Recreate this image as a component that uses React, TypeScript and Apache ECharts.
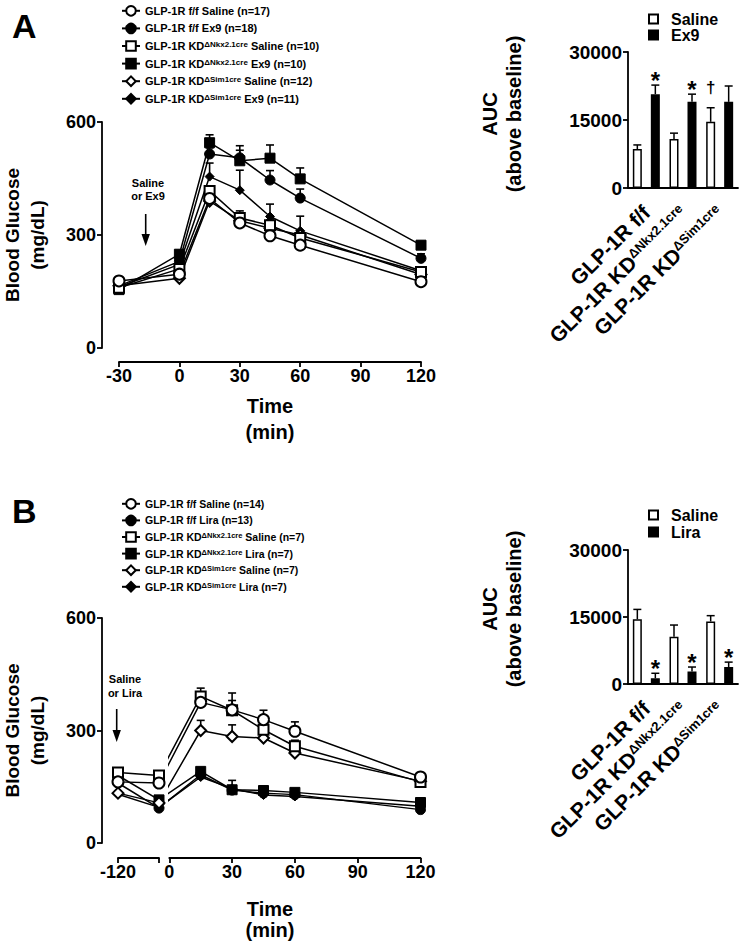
import React, { useEffect, useRef } from 'react';
import * as echarts from 'echarts';

const FONT = "'Liberation Sans', Arial, Helvetica, sans-serif";

// ---------- Panel A: time course (Ex9) ----------
const timesA = [-30, 0, 15, 30, 45, 60, 120];
const ffSalA = [178, 196, 397, 332, 298, 273, 176];
const ffSalAErr = [6, 8, 10, 9, 9, 9, 8];
const ffEx9A = [165, 230, 515, 505, 446, 398, 238];
const ffEx9AErr = [6, 10, 16, 20, 25, 24, 12];
const nkxSalA = [160, 210, 417, 345, 326, 292, 202];
const nkxSalAErr = [6, 10, 13, 19, 14, 12, 9];
const nkxEx9A = [155, 249, 545, 497, 504, 449, 273];
const nkxEx9AErr = [6, 10, 21, 40, 35, 29, 10];
const simSalA = [165, 185, 390, 338, 318, 300, 195];
const simSalAErr = [6, 8, 10, 10, 10, 10, 8];
const simEx9A = [162, 222, 455, 419, 349, 311, 205];
const simEx9AErr = [6, 10, 36, 53, 33, 39, 10];

const namesA = [
  'GLP-1R f/f Saline (n=17)',
  'GLP-1R f/f Ex9 (n=18)',
  'GLP-1R KDΔNkx2.1cre Saline (n=10)',
  'GLP-1R KDΔNkx2.1cre Ex9 (n=10)',
  'GLP-1R KDΔSim1cre Saline (n=12)',
  'GLP-1R KDΔSim1cre Ex9 (n=11)',
];

// ---------- Panel B: time course (Lira) ----------
const timesB = [-120, -5, 15, 30, 45, 60, 120];
const ffSalB = [163, 160, 375, 355, 329, 298, 176];
const ffSalBErr = [8, 8, 14, 25, 25, 25, 8];
const ffLiraB = [160, 93, 182, 141, 133, 129, 89];
const ffLiraBErr = [6, 6, 8, 8, 6, 6, 6];
const nkxSalB = [188, 180, 391, 354, 302, 258, 163];
const nkxSalBErr = [8, 8, 22, 46, 18, 16, 8];
const nkxLiraB = [180, 115, 191, 142, 140, 135, 108];
const nkxLiraBErr = [6, 6, 8, 25, 6, 6, 6];
const simSalB = [133, 107, 300, 284, 280, 240, 165];
const simSalBErr = [6, 6, 27, 31, 10, 10, 6];
const simLiraB = [130, 95, 176, 145, 128, 124, 98];
const simLiraBErr = [6, 6, 6, 6, 6, 6, 6];

const namesB = [
  'GLP-1R f/f Saline (n=14)',
  'GLP-1R f/f Lira (n=13)',
  'GLP-1R KDΔNkx2.1cre Saline (n=7)',
  'GLP-1R KDΔNkx2.1cre Lira (n=7)',
  'GLP-1R KDΔSim1cre Saline (n=7)',
  'GLP-1R KDΔSim1cre Lira (n=7)',
];

// ---------- AUC bars ----------
const aucGroups = ['GLP-1R f/f', 'GLP-1R KDΔNkx2.1cre', 'GLP-1R KDΔSim1cre'];
const aucSalA = [8600, 10800, 14600];
const aucSalAErr = [900, 1300, 3100];
const aucSalAMark = ['', '', '†'];
const aucEx9A = [20700, 19000, 19000];
const aucEx9AErr = [2000, 1700, 3500];
const aucEx9AMark = ['*', '*', ''];
const aucSalB = [14500, 10600, 14000];
const aucSalBErr = [2200, 2600, 1300];
const aucSalBMark = ['', '', ''];
const aucLiraB = [1300, 2800, 3800];
const aucLiraBErr = [1100, 1000, 1100];
const aucLiraBMark = ['*', '*', '*'];

const supFmt = (s: string) => s.replace(/(Δ\S+)/, '{sup|$1}');

const BAR_W = 9;

function lineErr(params: any, api: any) {
  const x = api.value(0);
  const m = api.value(1);
  const e = api.value(2);
  const p0 = api.coord([x, m]);
  const p1 = api.coord([x, m + e]);
  return {
    type: 'group',
    children: [
      { type: 'line', shape: { x1: p0[0], y1: p0[1], x2: p1[0], y2: p1[1] }, style: { stroke: '#000', lineWidth: 1.6 } },
      { type: 'line', shape: { x1: p1[0] - 4, y1: p1[1], x2: p1[0] + 4, y2: p1[1] }, style: { stroke: '#000', lineWidth: 1.6 } },
    ],
  };
}

function barErr(side: number, marks: string[]) {
  return (params: any, api: any) => {
    const i = api.value(0);
    const m = api.value(1);
    const e = api.value(2);
    const c0 = api.coord([i, m]);
    const c1 = api.coord([i, m + e]);
    const x = c0[0] + side * BAR_W;
    const children: any[] = [
      { type: 'line', shape: { x1: x, y1: c0[1], x2: x, y2: c1[1] }, style: { stroke: '#000', lineWidth: 1.5 } },
      { type: 'line', shape: { x1: x - 4, y1: c1[1], x2: x + 4, y2: c1[1] }, style: { stroke: '#000', lineWidth: 1.5 } },
    ];
    const mk = marks[params.dataIndex];
    if (mk) {
      const star = mk === '*';
      children.push({
        type: 'text',
        style: {
          text: mk,
          x,
          y: c1[1] - (star ? 5 : 20),
          align: 'center',
          verticalAlign: 'middle',
          textAlign: 'center',
          textVerticalAlign: 'middle',
          fontSize: star ? 24 : 17,
          fontWeight: 'bold',
          fontFamily: FONT,
          fill: '#000',
        },
      });
    }
    return { type: 'group', children };
  };
}

type Marker = { shape: string; filled: boolean; size: number };
const mOpenCircle: Marker = { shape: 'circle', filled: false, size: 11 };
const mFillCircle: Marker = { shape: 'circle', filled: true, size: 10 };
const mOpenSquare: Marker = { shape: 'rect', filled: false, size: 10 };
const mFillSquare: Marker = { shape: 'rect', filled: true, size: 10 };
const mOpenDiamond: Marker = { shape: 'diamond', filled: false, size: 11 };
const mFillDiamond: Marker = { shape: 'diamond', filled: true, size: 9 };

function lineSeries(name: string | undefined, data: any[], mk: Marker, xi: number, yi: number) {
  const s: any = {
    type: 'line',
    data,
    xAxisIndex: xi,
    yAxisIndex: yi,
    symbol: mk.shape,
    symbolSize: mk.size,
    showSymbol: true,
    showAllSymbol: true,
    lineStyle: { color: '#000', width: 1.5 },
    itemStyle: { color: mk.filled ? '#000' : '#fff', borderColor: '#000', borderWidth: mk.filled ? 1 : 2 },
    emphasis: { disabled: true },
    z: 3,
  };
  if (name) s.name = name;
  return s;
}

function errSeries(data: any[], xi: number, yi: number) {
  return {
    type: 'custom',
    xAxisIndex: xi,
    yAxisIndex: yi,
    data,
    encode: { x: 0, y: 1 },
    renderItem: lineErr,
    silent: true,
    z: 2,
  };
}

const axisLineStyle = { color: '#000', width: 1.8 };
const axisLine = { show: true, onZero: false, lineStyle: axisLineStyle };
const tickStyle = { show: true, length: 5, lineStyle: { color: '#000', width: 1.8 } };
const plainNum = (v: number) => String(v);
const tickLabel = (size: number, margin: number) => ({
  color: '#000',
  fontSize: size,
  fontWeight: 'bold',
  fontFamily: FONT,
  margin,
  formatter: plainNum,
});

export default function App() {
  const ref = useRef<HTMLDivElement>(null);
  useEffect(() => {
    if (!ref.current) return;
    const chart = echarts.init(ref.current, undefined, { renderer: 'svg' });

    const seriesA: [string, number[], number[], Marker][] = [
      [namesA[3], nkxEx9A, nkxEx9AErr, mFillSquare],
      [namesA[1], ffEx9A, ffEx9AErr, mFillCircle],
      [namesA[5], simEx9A, simEx9AErr, mFillDiamond],
      [namesA[4], simSalA, simSalAErr, mOpenDiamond],
      [namesA[2], nkxSalA, nkxSalAErr, mOpenSquare],
      [namesA[0], ffSalA, ffSalAErr, mOpenCircle],
    ];
    const seriesB: [string, number[], number[], Marker][] = [
      [namesB[3], nkxLiraB, nkxLiraBErr, mFillSquare],
      [namesB[1], ffLiraB, ffLiraBErr, mFillCircle],
      [namesB[5], simLiraB, simLiraBErr, mFillDiamond],
      [namesB[4], simSalB, simSalBErr, mOpenDiamond],
      [namesB[2], nkxSalB, nkxSalBErr, mOpenSquare],
      [namesB[0], ffSalB, ffSalBErr, mOpenCircle],
    ];

    const series: any[] = [];
    seriesA.forEach(([, v, e]) => series.push(errSeries(timesA.map((t, i) => [t, v[i], e[i]]), 0, 0)));
    seriesA.forEach(([n, v, , mk]) => series.push(lineSeries(n, timesA.map((t, i) => [t, v[i]]), mk, 0, 0)));
    seriesB.forEach(([, v, e]) => series.push(errSeries([0, 1].map((i) => [i, v[i], e[i]]), 2, 2)));
    seriesB.forEach(([, v, , mk]) => series.push(lineSeries(undefined, [v[0], v[1]], mk, 2, 2)));
    seriesB.forEach(([, v, e]) =>
      series.push(errSeries(timesB.slice(2).map((t, k) => [t, v[k + 2], e[k + 2]]), 3, 3))
    );
    seriesB.forEach(([n, v, , mk]) =>
      series.push(
        lineSeries(
          n,
          timesB.slice(1).map((t, k) => (k === 0 ? { value: [t, v[1]], symbol: 'none' } : [t, v[k + 1]])),
          mk,
          3,
          3
        )
      )
    );
    const whiteBar = { color: '#fff', borderColor: '#000', borderWidth: 1.5 };
    const blackBar = { color: '#000', borderColor: '#000', borderWidth: 1.5 };
    series.push({ type: 'bar', name: 'Saline', xAxisIndex: 1, yAxisIndex: 1, data: aucSalA, barWidth: BAR_W, barGap: '100%', itemStyle: whiteBar, emphasis: { disabled: true } });
    series.push({ type: 'bar', name: 'Ex9', xAxisIndex: 1, yAxisIndex: 1, data: aucEx9A, barWidth: BAR_W, barGap: '100%', itemStyle: blackBar, emphasis: { disabled: true } });
    series.push({ type: 'custom', xAxisIndex: 1, yAxisIndex: 1, data: aucSalA.map((v, i) => [i, v, aucSalAErr[i]]), encode: { x: 0, y: 1 }, renderItem: barErr(-1, aucSalAMark), silent: true, z: 4 });
    series.push({ type: 'custom', xAxisIndex: 1, yAxisIndex: 1, data: aucEx9A.map((v, i) => [i, v, aucEx9AErr[i]]), encode: { x: 0, y: 1 }, renderItem: barErr(1, aucEx9AMark), silent: true, z: 4 });
    series.push({ type: 'bar', name: 'Saline', xAxisIndex: 4, yAxisIndex: 4, data: aucSalB, barWidth: BAR_W, barGap: '100%', itemStyle: whiteBar, emphasis: { disabled: true } });
    series.push({ type: 'bar', name: 'Lira', xAxisIndex: 4, yAxisIndex: 4, data: aucLiraB, barWidth: BAR_W, barGap: '100%', itemStyle: blackBar, emphasis: { disabled: true } });
    series.push({ type: 'custom', xAxisIndex: 4, yAxisIndex: 4, data: aucSalB.map((v, i) => [i, v, aucSalBErr[i]]), encode: { x: 0, y: 1 }, renderItem: barErr(-1, aucSalBMark), silent: true, z: 4 });
    series.push({ type: 'custom', xAxisIndex: 4, yAxisIndex: 4, data: aucLiraB.map((v, i) => [i, v, aucLiraBErr[i]]), encode: { x: 0, y: 1 }, renderItem: barErr(1, aucLiraBMark), silent: true, z: 4 });

    const legendText = (size: number, supSize: number) => ({
      color: '#000',
      fontSize: size,
      fontWeight: 'bold',
      fontFamily: FONT,
      rich: {
        sup: { color: '#000', fontSize: supSize, fontWeight: 'bold', fontFamily: FONT, verticalAlign: 'top' },
      },
    });
    const barLegendText = { color: '#000', fontSize: 16, fontWeight: 'bold', fontFamily: FONT, padding: [0, 0, 0, 8] };

    const gridBase = { containLabel: false, outerBoundsMode: 'none', show: false };

    const catAxis = (gi: number) => ({
      type: 'category',
      gridIndex: gi,
      data: aucGroups,
      axisLine,
      axisTick: { show: false },
      axisLabel: {
        color: '#000',
        fontSize: 21,
        fontWeight: 'bold',
        fontFamily: FONT,
        margin: 21,
        rotate: 45,
        interval: 0,
        formatter: (v: string) => supFmt(v),
        rich: { sup: { color: '#000', fontSize: 13, fontWeight: 'bold', fontFamily: FONT, verticalAlign: 'top' } },
      },
    });
    const aucAxis = (gi: number, shift: number) => ({
      type: 'value',
      gridIndex: gi,
      min: 0,
      max: 30000,
      interval: 15000,
      axisLine,
      axisTick: tickStyle,
      axisLabel: tickLabel(19, 6),
      splitLine: { show: false },
      name: 'AUC\n(above baseline)',
      nameLocation: 'middle',
      nameRotate: 90,
      nameGap: 102,
      nameTextStyle: { color: '#000', fontSize: 20, fontWeight: 'bold', fontFamily: FONT, lineHeight: 24, padding: [0, 0, 0, shift] },
    });
    const glucoseAxis = (gi: number, offset: number, show: boolean) => ({
      type: 'value',
      gridIndex: gi,
      show,
      min: 0,
      max: 600,
      interval: 300,
      offset,
      axisLine,
      axisTick: tickStyle,
      axisLabel: tickLabel(18, 6),
      splitLine: { show: false },
      name: 'Blood Glucose\n(mg/dL)',
      nameLocation: 'middle',
      nameRotate: 90,
      nameGap: 52,
      nameTextStyle: { color: '#000', fontSize: 19, fontWeight: 'bold', fontFamily: FONT, lineHeight: 25 },
    });

    const option: any = {
      animation: false,
      backgroundColor: '#fff',
      grid: [
        { ...gridBase, left: 119, top: 122, width: 302, height: 226 },
        { ...gridBase, left: 628, top: 52, width: 110, height: 136 },
        { ...gridBase, left: 118, top: 618, width: 41, height: 225 },
        { ...gridBase, left: 169.3, top: 618, width: 251.2, height: 225 },
        { ...gridBase, left: 628, top: 550, width: 110, height: 134 },
      ],
      xAxis: [
        {
          type: 'value',
          gridIndex: 0,
          min: -30,
          max: 120,
          interval: 30,
          offset: 14,
          axisLine,
          axisTick: tickStyle,
          axisLabel: tickLabel(18, 5),
          splitLine: { show: false },
          name: 'Time\n(min)',
          nameLocation: 'middle',
          nameGap: 31,
          nameTextStyle: { color: '#000', fontSize: 20, fontWeight: 'bold', fontFamily: FONT, lineHeight: 26, verticalAlign: 'top' },
        },
        catAxis(1),
        {
          type: 'category',
          gridIndex: 2,
          data: timesB.slice(0, 2).map(String),
          boundaryGap: false,
          offset: 15,
          axisLine,
          axisTick: { ...tickStyle, interval: 0 },
          axisLabel: { ...tickLabel(18, 5), interval: 0, formatter: (v: string, i: number) => (i === 0 ? v : '') },
          splitLine: { show: false },
        },
        {
          type: 'value',
          gridIndex: 3,
          min: 0,
          max: 120,
          interval: 30,
          offset: 15,
          axisLine,
          axisTick: tickStyle,
          axisLabel: tickLabel(18, 5),
          splitLine: { show: false },
        },
        catAxis(4),
      ],
      yAxis: [
        glucoseAxis(0, 17, true),
        aucAxis(1, 12),
        glucoseAxis(2, 16, true),
        glucoseAxis(3, 0, false),
        aucAxis(4, 16),
      ],
      legend: [
        {
          left: 116, top: 0, orient: 'vertical', itemWidth: 18, itemHeight: 12, itemGap: 6,
          selectedMode: false, data: namesA, formatter: supFmt, textStyle: legendText(11, 8),
        },
        {
          left: 116, top: 493, orient: 'vertical', itemWidth: 18, itemHeight: 12, itemGap: 5,
          selectedMode: false, data: namesB, formatter: supFmt, textStyle: legendText(10.5, 7.5),
        },
        {
          left: 643, top: 6, orient: 'vertical', itemWidth: 9, itemHeight: 9, itemGap: 0, icon: 'rect',
          selectedMode: false, data: ['Saline', 'Ex9'], textStyle: barLegendText,
        },
        {
          left: 643, top: 502, orient: 'vertical', itemWidth: 9, itemHeight: 9, itemGap: 1, icon: 'rect',
          selectedMode: false, data: ['Saline', 'Lira'], textStyle: barLegendText,
        },
      ],
      graphic: [
        { type: 'text', left: 12, top: 9, style: { text: 'A', fontSize: 34, fontWeight: 'bold', fontFamily: FONT, fill: '#000' } },
        { type: 'text', left: 12, top: 494, style: { text: 'B', fontSize: 34, fontWeight: 'bold', fontFamily: FONT, fill: '#000' } },
        {
          type: 'text', x: 148, y: 189,
          style: { text: 'Saline\nor Ex9', fontSize: 11, lineHeight: 13, fontWeight: 'bold', fontFamily: FONT, fill: '#000', align: 'center', verticalAlign: 'middle', textAlign: 'center', textVerticalAlign: 'middle' },
        },
        { type: 'line', shape: { x1: 145.7, y1: 214, x2: 145.7, y2: 238 }, style: { stroke: '#000', lineWidth: 1.6 } },
        { type: 'polygon', shape: { points: [[141.5, 234], [149.9, 234], [145.7, 246]] }, style: { fill: '#000' } },
        {
          type: 'text', x: 125, y: 686,
          style: { text: 'Saline\nor Lira', fontSize: 11, lineHeight: 13.5, fontWeight: 'bold', fontFamily: FONT, fill: '#000', align: 'center', verticalAlign: 'middle', textAlign: 'center', textVerticalAlign: 'middle' },
        },
        { type: 'line', shape: { x1: 116.7, y1: 709, x2: 116.7, y2: 733 }, style: { stroke: '#000', lineWidth: 1.6 } },
        { type: 'polygon', shape: { points: [[112.5, 730], [120.9, 730], [116.7, 742]] }, style: { fill: '#000' } },
        {
          type: 'text', x: 270, y: 919,
          style: { text: 'Time\n(min)', fontSize: 20, lineHeight: 21, fontWeight: 'bold', fontFamily: FONT, fill: '#000', align: 'center', verticalAlign: 'middle', textAlign: 'center', textVerticalAlign: 'middle' },
        },
      ],
      series,
    };
    chart.setOption(option);
    return () => chart.dispose();
  }, []);
  return <div ref={ref} style={{ position: 'absolute', left: 0, top: 0, width: 740, height: 946, background: '#fff' }} />;
}
